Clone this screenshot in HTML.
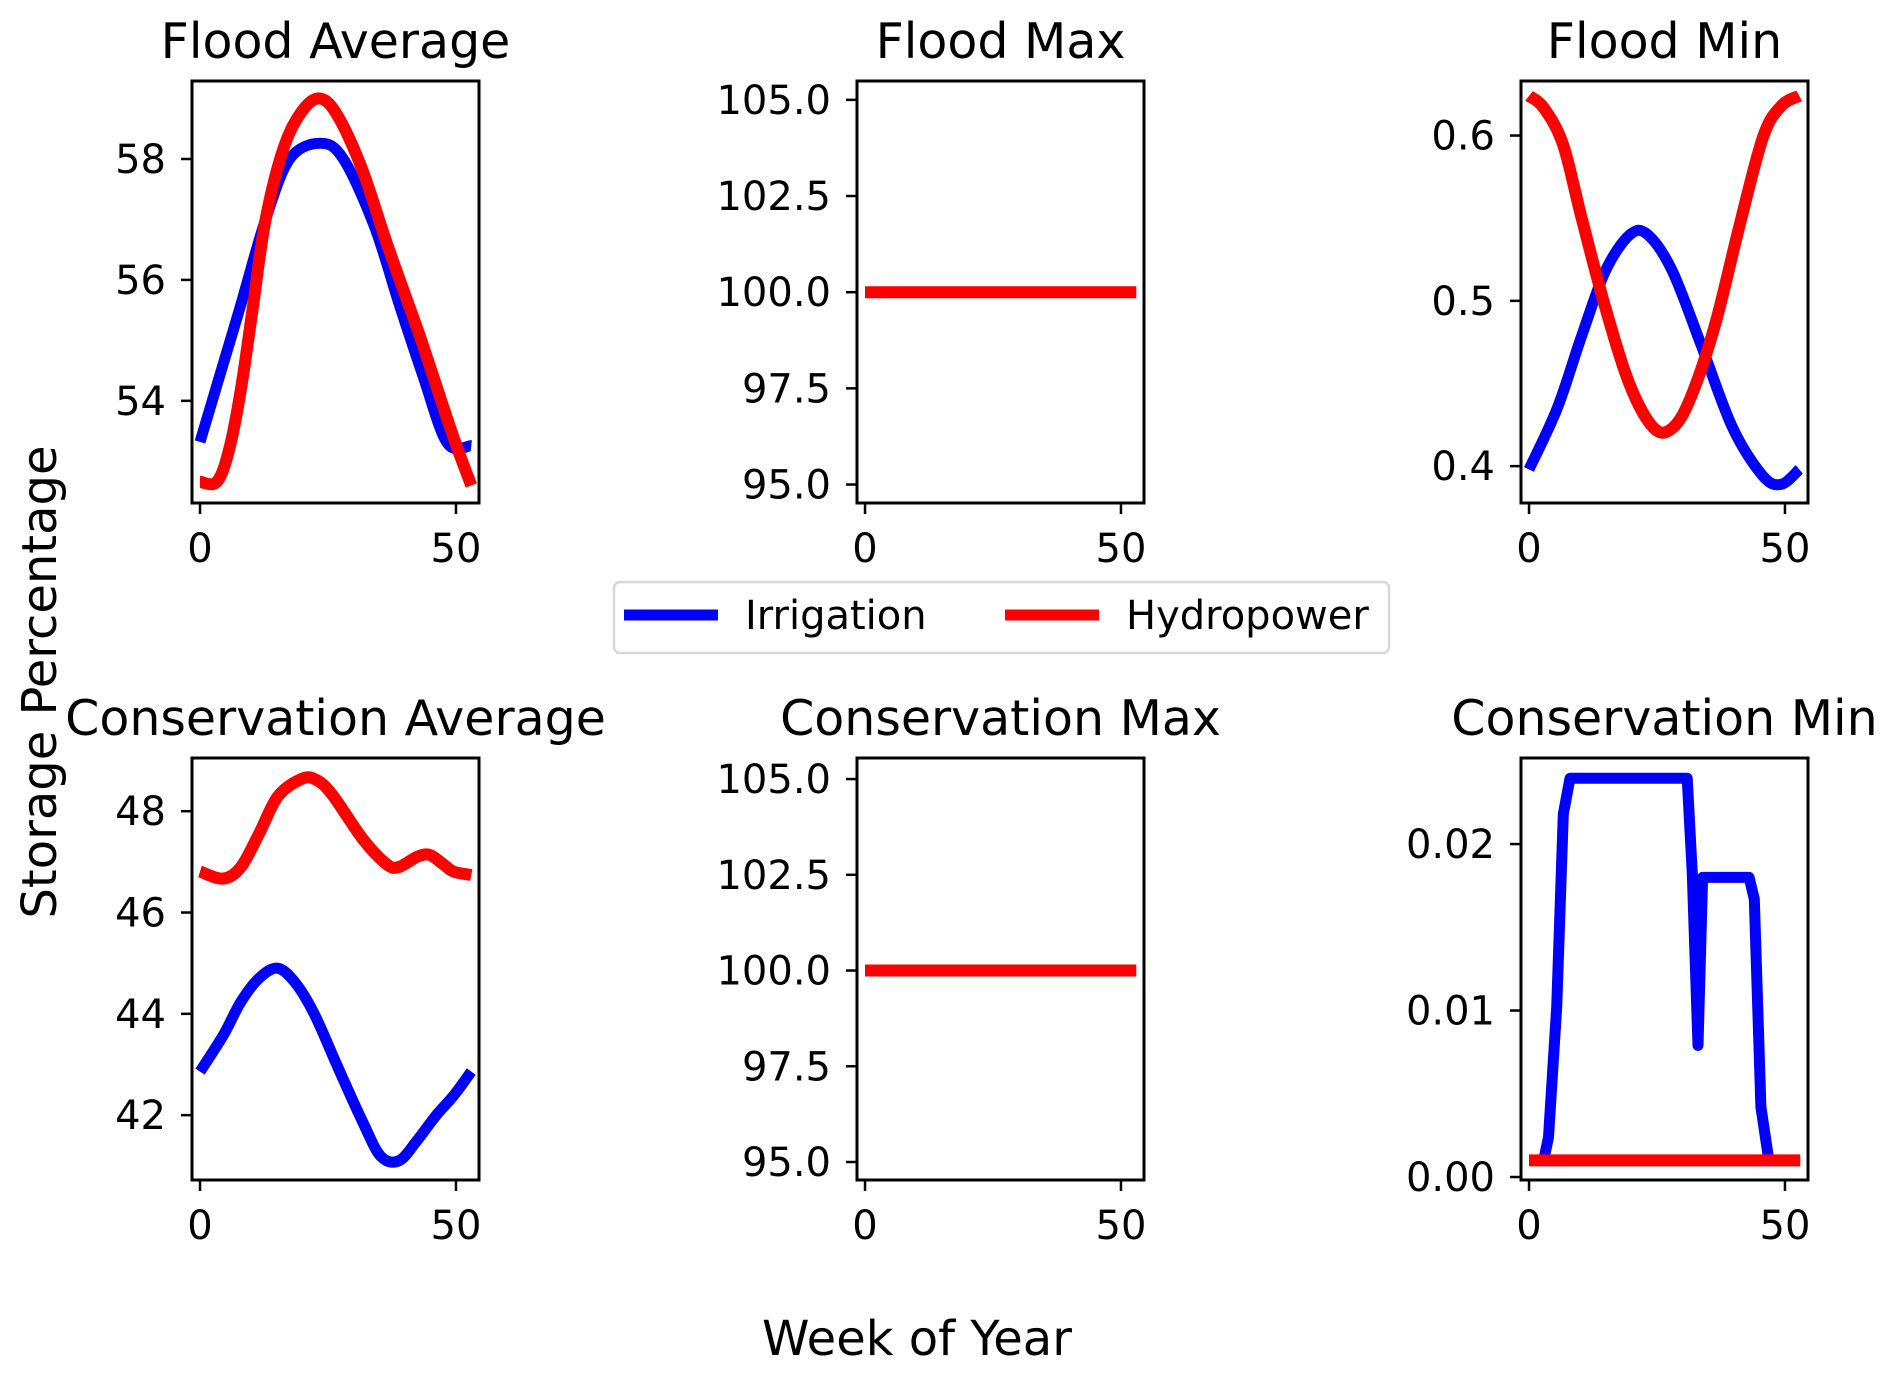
<!DOCTYPE html>
<html><head><meta charset="utf-8"><style>
html,body{margin:0;padding:0;background:#fff;}
svg{display:block;font-family:"DejaVu Sans","Liberation Sans",sans-serif;}
</style></head><body>
<svg id="c" width="1892" height="1377" viewBox="0 0 1892 1377" xmlns="http://www.w3.org/2000/svg"></svg>
<script>
// ---- data ----
const faWeeksB=[0,3.3,8,12.8,17.5,23.5,28,34,38.9,43.6,48.3,53];
const faIrr=[53.32,54.26,55.6,57.0,58.0,58.26,58.0,56.9,55.6,54.4,53.3,53.26];
const faWeeksR=[0,3.3,5.7,8,10.4,12.8,16.4,20,23.5,27,31.8,36.5,42.4,44.8,49.5,53];
const faHyd=[52.66,52.66,53.2,54.2,55.6,57.0,58.2,58.8,59.0,58.7,57.8,56.6,55.2,54.6,53.4,52.6];
const fmWeeks=[0,53];
const fmHyd=[100,100];
const fnWeeksB=[0,5.5,10.2,14.9,19.7,23.2,28,33.9,39.8,45.7,49.3,52.8];
const fnIrr=[0.398,0.435,0.478,0.518,0.540,0.540,0.518,0.471,0.423,0.394,0.389,0.398];
const fnWeeksR=[0,2.8,6.6,10.2,14.9,19.7,24.4,28,31.5,36.3,41,45.7,49.3,52.8];
const fnHyd=[0.624,0.617,0.595,0.551,0.496,0.449,0.423,0.423,0.441,0.485,0.544,0.599,0.618,0.624];
const caWeeksR=[0,4.5,8,11.6,15.2,19.9,22.7,25.8,31.8,36.5,38.9,42.4,44.8,47.2,49.5,53];
const caHyd=[46.81,46.67,46.9,47.57,48.29,48.64,48.62,48.33,47.45,46.95,46.9,47.1,47.14,46.98,46.81,46.74];
const caWeeksB=[0,4.5,8,11.6,15.2,18.7,22.3,27,31.8,35.3,38.9,42.4,46,49.5,53];
const caIrr=[42.86,43.57,44.24,44.71,44.9,44.6,44.0,42.93,41.86,41.19,41.1,41.5,41.98,42.38,42.86];
const cmWeeks=[0,53];
const cmHyd=[0.001,0.001];
const cnWeeksB=[2.8,3.8,5.4,6.7,8.0,30.9,31.9,33.0,33.9,43.0,44.0,45.3,46.9];
const cnIrr=[0.00092,0.0024,0.0102,0.0218,0.02395,0.02395,0.0182,0.0079,0.018,0.018,0.0167,0.0042,0.0009];
const avgTicks=[[54,56,58],[42,44,46,48]];
const maxTicks=[95,97.5,100,102.5,105];
const maxTickLabels=["95.0","97.5","100.0","102.5","105.0"];
const fminTicks=[0.4,0.5,0.6];
const cminTicks=[0,0.01,0.02];
const cminTickLabels=["0.00","0.01","0.02"];
const xTicks=[0,50];

const NS="http://www.w3.org/2000/svg";
const svg=document.getElementById('c');
function el(tag,attrs,parent){const e=document.createElementNS(NS,tag);for(const k in attrs)e.setAttribute(k,attrs[k]);(parent||svg).appendChild(e);return e;}
function smoothPath(P){
  if(P.length<3)return 'M'+P.map(p=>p[0].toFixed(1)+','+p[1].toFixed(1)).join(' L');
  let d='M'+P[0][0].toFixed(1)+','+P[0][1].toFixed(1);
  for(let i=0;i<P.length-1;i++){
    const p0=P[Math.max(0,i-1)],p1=P[i],p2=P[i+1],p3=P[Math.min(P.length-1,i+2)];
    const c1=[p1[0]+(p2[0]-p0[0])/6,p1[1]+(p2[1]-p0[1])/6];
    const c2=[p2[0]-(p3[0]-p1[0])/6,p2[1]-(p3[1]-p1[1])/6];
    d+=' C'+c1[0].toFixed(1)+','+c1[1].toFixed(1)+' '+c2[0].toFixed(1)+','+c2[1].toFixed(1)+' '+p2[0].toFixed(1)+','+p2[1].toFixed(1);
  }
  return d;
}
const W=287,H=422;
const panels=[
 {name:'flood-average',title:'Flood Average',x:192,y:81,ylim:[52.31,59.29],ticks:avgTicks[0],labels:avgTicks[0].map(String),smooth:true,series:[[faWeeksB,faIrr,'#0000ff'],[faWeeksR,faHyd,'#ff0000']]},
 {name:'flood-max',title:'Flood Max',x:857,y:81,ylim:[94.52,105.49],ticks:maxTicks,labels:maxTickLabels,smooth:false,series:[[fmWeeks,fmHyd,'#ff0000']]},
 {name:'flood-min',title:'Flood Min',x:1521,y:81,ylim:[0.3777,0.633],ticks:fminTicks,labels:fminTicks.map(String),smooth:true,series:[[fnWeeksB,fnIrr,'#0000ff'],[fnWeeksR,fnHyd,'#ff0000']]},
 {name:'conservation-average',title:'Conservation Average',x:192,y:758,ylim:[40.72,49.05],ticks:avgTicks[1],labels:avgTicks[1].map(String),smooth:true,series:[[caWeeksR,caHyd,'#ff0000'],[caWeeksB,caIrr,'#0000ff']]},
 {name:'conservation-max',title:'Conservation Max',x:857,y:758,ylim:[94.53,105.55],ticks:maxTicks,labels:maxTickLabels,smooth:false,series:[[cmWeeks,fmHyd,'#ff0000']]},
 {name:'conservation-min',title:'Conservation Min',x:1521,y:758,ylim:[-0.00018,0.02517],ticks:cminTicks,labels:cminTickLabels,smooth:false,series:[[cnWeeksB,cnIrr,'#0000ff'],[cmWeeks,cmHyd,'#ff0000']]}
];
const XLIM=[-1.57,54.5];
panels.forEach(p=>{
  const g=el('g',{});
  
  
  const sx=v=>p.x+(v-XLIM[0])/(XLIM[1]-XLIM[0])*W;
  const sy=v=>p.y+H-(v-p.ylim[0])/(p.ylim[1]-p.ylim[0])*H;
  const t=el('text',{x:p.x+W/2,y:p.y-23,'font-size':49,'text-anchor':'middle'},g);
  t.textContent=p.title;
  
  
  const cp='clip-'+p.name;
  const cl=el('clipPath',{id:cp},g);el('rect',{x:p.x,y:p.y,width:W,height:H},cl);
  p.series.forEach((s,i)=>{
    const P=s[0].map((w,j)=>[sx(w),sy(s[1][j])]);
    const d=p.smooth?smoothPath(P):'M'+P.map(q=>q[0].toFixed(1)+','+q[1].toFixed(1)).join(' L');
    const line=el('path',{d:d,fill:'none',stroke:s[2],'stroke-width':s[2]=='#ff0000'?12:11,'stroke-linejoin':'round','clip-path':'url(#'+cp+')'},g);
    
    
  });
  el('rect',{x:p.x,y:p.y,width:W,height:H,fill:'none',stroke:'#000','stroke-width':3},g);
  p.ticks.forEach((v,i)=>{
    const y=sy(v);
    el('line',{x1:p.x-11,x2:p.x,y1:y,y2:y,stroke:'#000','stroke-width':2.5},g);
    const tl=el('text',{x:p.x-26,y:y+14,'font-size':40,'text-anchor':'end'},g);
    tl.textContent=p.labels[i];
    
    
  });
  xTicks.forEach(v=>{
    const x=sx(v);
    el('line',{x1:x,x2:x,y1:p.y+H,y2:p.y+H+11,stroke:'#000','stroke-width':2.5},g);
    const tl=el('text',{x:x,y:p.y+H+59,'font-size':40,'text-anchor':'middle'},g);
    tl.textContent=String(v);
    
    
  });
});
</script>
<svg style="position:absolute;left:0;top:0" width="1892" height="1377" xmlns="http://www.w3.org/2000/svg" font-family="DejaVu Sans, Liberation Sans, sans-serif">
  <g>
    <rect x="614" y="582" width="775" height="71" rx="6" fill="#fff" stroke="#d9d9d9" stroke-width="2.5"/>
    <line x1="624" y1="615" x2="718" y2="615" stroke="#0000ff" stroke-width="11"/>
    <text x="745" y="629" font-size="40">Irrigation</text>
    <line x1="1005" y1="615" x2="1099" y2="615" stroke="#ff0000" stroke-width="11"/>
    <text x="1126" y="629" font-size="40">Hydropower</text>
  </g>
  <text x="917" y="1355" font-size="48" text-anchor="middle">Week of Year</text>
  <text x="0" y="0" font-size="48" text-anchor="middle" transform="translate(56,682) rotate(-90)">Storage Percentage</text>
</svg>
</body></html>
